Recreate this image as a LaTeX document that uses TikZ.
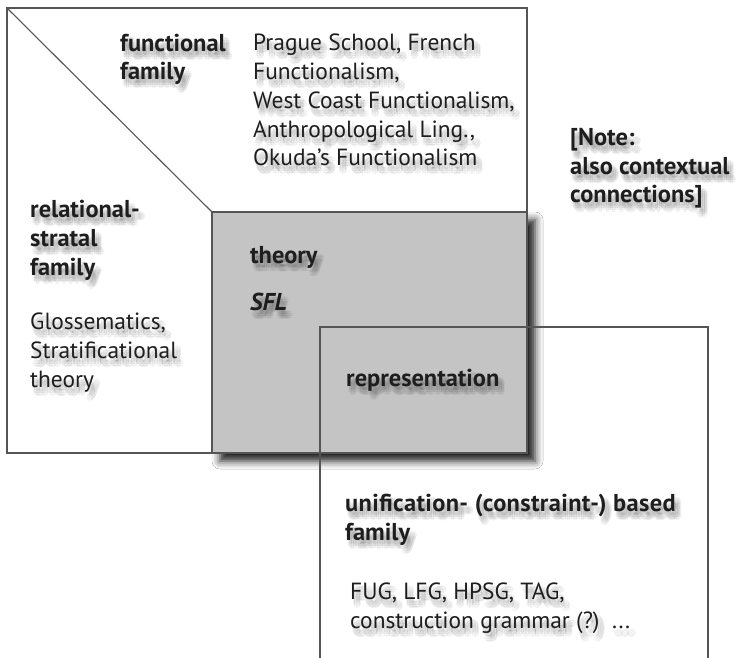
\documentclass[tikz,border=0pt]{standalone}
\usepackage{fontspec}
\setmainfont{PT Sans}
\usetikzlibrary{calc,shadows.blur}

\definecolor{edge}{HTML}{555555}
\definecolor{panel}{HTML}{C4C4C4}
\definecolor{ink}{HTML}{1E1E1E}

\tikzset{
  frame/.style={draw=edge, line width=1.1pt},
  txt/.style={anchor=base west, inner sep=0pt, align=left, text=ink,
              font=\fontsize{23.4}{28.8}\selectfont},
  head/.style={txt, font=\fontsize{24.4}{28.8}\selectfont\bfseries},
  headit/.style={txt, font=\fontsize{24.4}{28.8}\selectfont\bfseries\itshape},
}

% text with a soft drop shadow: name, position (baseline of last line), style, content
\newcommand\softlabel[4]{%
  \foreach \dx/\dy in {4/6,7/6,6/8,4/9,2/8,1/6,2/4,4/3,6/4}
    \node[#3, text=black, opacity=0.05] at ($(#2)+(\dx,\dy)$) {#4};
  \node[#3] (#1) at (#2) {#4};
}

\begin{document}
\begin{tikzpicture}[x=1pt,y=-1pt]
\useasboundingbox (0,0) rectangle (737,658);
\fill[white] (0,0) rectangle (737,658);

% outer theory region with the diagonal split
\draw[frame] (212,453) -- (7,453) -- (7,8) -- (527,8) -- (527,212);
\draw[frame] (7,8) -- (212,212);

% shared core: SFL
\path[blur shadow={shadow xshift=8pt, shadow yshift=-8pt, shadow blur radius=8pt,
      shadow opacity=90}]
  (212,212) rectangle (527,453);
\draw[frame, fill=panel] (212,212) rectangle (527,453);

% unification-based region
\draw[frame] (320,658) -- (320,327) -- (708,327) -- (708,658);

% label positions (baseline of each block's last line)
\coordinate (pFun) at (120,80);
\coordinate (pPra) at (253,166);
\coordinate (pNote) at (570,203);
\coordinate (pRel) at (30,275);
\coordinate (pGlo) at (30,387);
\coordinate (pThe) at (250,263);
\coordinate (pSFL) at (250,310);
\coordinate (pRep) at (346,386);
\coordinate (pUni) at (345,540);
\coordinate (pFUG) at (350,628);

\softlabel{functional}{pFun}{head}{functional\\family}
\softlabel{prague}{pPra}{txt}{Prague School, French\\Functionalism,\\West Coast Functionalism,\\Anthropological Ling.,\\Okuda’s Functionalism}
\softlabel{note}{pNote}{head}{[Note:\\also contextual\\connections]}
\softlabel{relational}{pRel}{head}{relational-\\stratal\\family}
\softlabel{glosse}{pGlo}{txt}{Glossematics,\\Stratificational\\theory}
\softlabel{theory}{pThe}{head}{theory}
\softlabel{sfl}{pSFL}{headit}{SFL}
\softlabel{repr}{pRep}{head}{representation}
\softlabel{unif}{pUni}{head}{{\addfontfeature{LetterSpace=1.5}unification- (constraint-) based}\\family}
\softlabel{fug}{pFUG}{txt}{FUG, LFG, HPSG, TAG,\\construction grammar (?)\ \ ...}
\end{tikzpicture}
\end{document}
